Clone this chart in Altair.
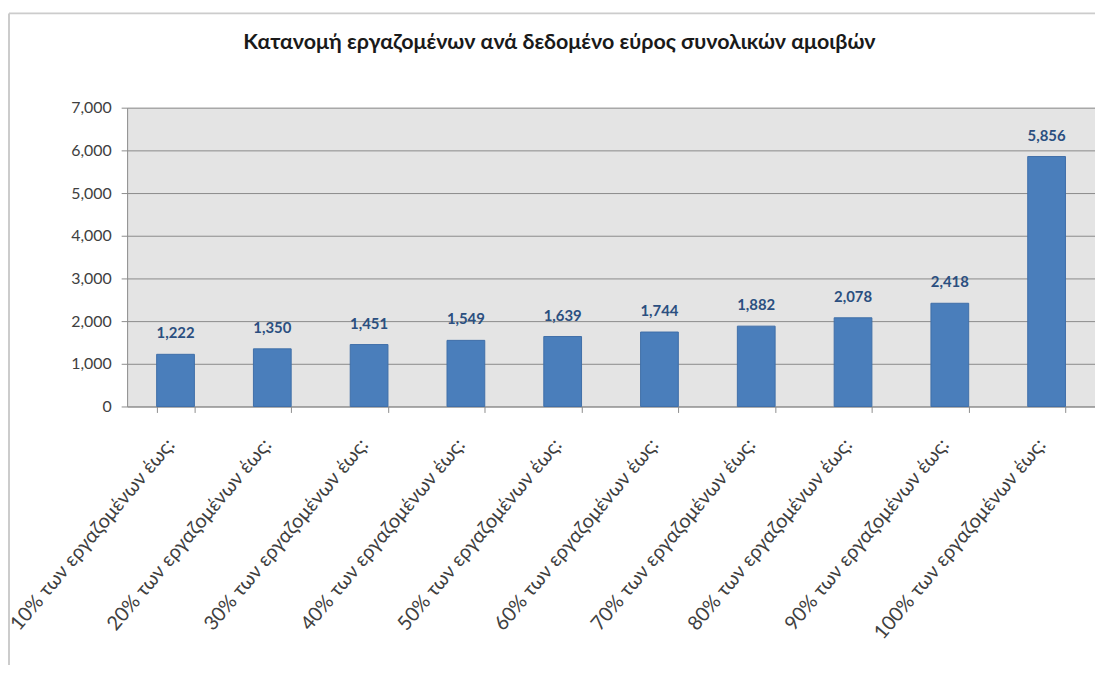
import altair as alt
import pandas as pd

categories = [
    "10% των εργαζομένων έως:",
    "20% των εργαζομένων έως:",
    "30% των εργαζομένων έως:",
    "40% των εργαζομένων έως:",
    "50% των εργαζομένων έως:",
    "60% των εργαζομένων έως:",
    "70% των εργαζομένων έως:",
    "80% των εργαζομένων έως:",
    "90% των εργαζομένων έως:",
    "100% των εργαζομένων έως:",
]
values = [1222, 1350, 1451, 1549, 1639, 1744, 1882, 2078, 2418, 5856]
y_ticks = [0, 1000, 2000, 3000, 4000, 5000, 6000, 7000]
title_text = "Κατανομή εργαζομένων ανά δεδομένο εύρος συνολικών αμοιβών"

df = pd.DataFrame({"cat": categories, "val": values})
one = df.head(1)

FONT = "Lato"
W, H = 975, 301

x = alt.X(
    "cat:N",
    sort=categories,
    title=None,
    scale=alt.Scale(paddingInner=0.61, paddingOuter=0.305),
    axis=alt.Axis(
        labelAngle=-50,
        labelAlign="right",
        labelBaseline="middle",
        labelPadding=29,
        labelOffset=-5,
        labelFont=FONT,
        labelFontSize=20,
        labelColor="#404040",
        tickBand="extent",
        tickSize=6,
        tickColor="#8c8c8c",
        domainColor="#8c8c8c",
        labelLimit=400,
        grid=False,
    ),
)

y = alt.Y(
    "val:Q",
    title=None,
    scale=alt.Scale(domain=[0, 7000], nice=False),
    axis=alt.Axis(
        values=y_ticks,
        format=",d",
        labelFont=FONT,
        labelFontSize=16,
        labelColor="#404040",
        labelPadding=10,
        tickSize=6,
        tickColor="#8c8c8c",
        domainColor="#8c8c8c",
        grid=True,
        gridColor="#8a8a8a",
        gridWidth=1,
    ),
)

frame_left = alt.Chart(one).mark_rule(stroke="#cccccc", strokeWidth=2).encode(
    x=alt.value(-119), y=alt.value(-95), y2=alt.value(700)
)
frame_top = alt.Chart(one).mark_rule(stroke="#cccccc", strokeWidth=2).encode(
    x=alt.value(-119), x2=alt.value(1100), y=alt.value(-95)
)

title = alt.Chart(one).mark_text(
    font=FONT, fontSize=21.6, fontWeight="bold", color="#1a1a1a", align="center", baseline="middle"
).encode(x=alt.value(W / 2 - 52), y=alt.value(-65), text=alt.value(title_text))

bars = alt.Chart(df).mark_bar(color="#4a7ebb", stroke="#3f6fa8", strokeWidth=1).encode(x=x, y=y)

labels = alt.Chart(df).mark_text(
    font=FONT, fontSize=15, fontWeight="bold", color="#2b4f80", dy=-21, baseline="middle"
).encode(x=alt.X("cat:N", sort=categories), y="val:Q", text=alt.Text("val:Q", format=",d"))

chart = (
    alt.layer(bars, labels, frame_left, frame_top, title)
    .properties(
        width=W,
        height=H,
        autosize=alt.AutoSizeParams(type="none"),
        padding={"left": 120, "top": 98, "right": 0, "bottom": 258},
    )
    .configure(background="white")
    .configure_view(fill="#e4e4e4", stroke=None)
)

chart.save("out.html", embed_options={"renderer": "svg", "actions": False})
